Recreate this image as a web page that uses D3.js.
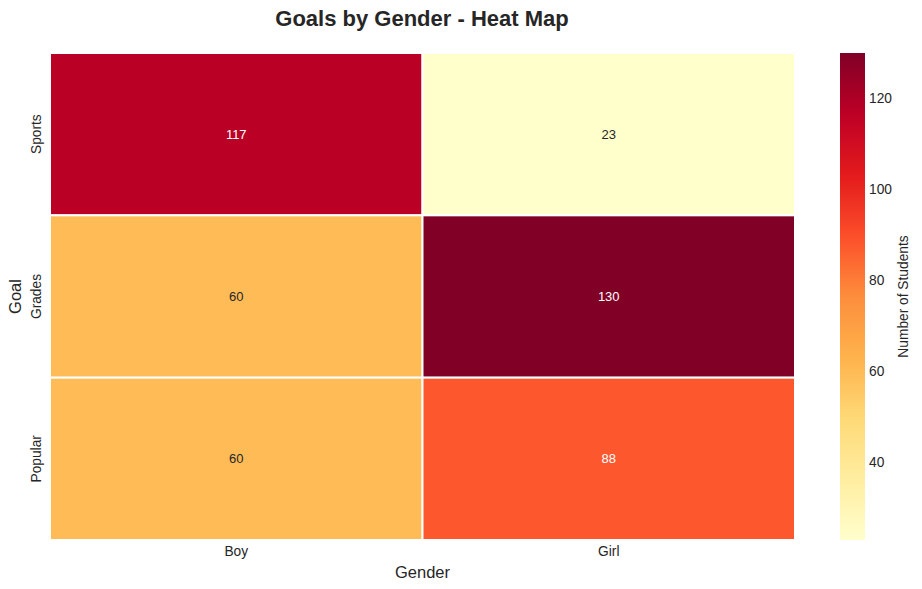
<!DOCTYPE html>
<html><head><meta charset="utf-8">
<script src="https://cdn.jsdelivr.net/npm/d3@7"></script>
<style>body{margin:0;background:#fff}text{font-family:"Liberation Sans",Arial,sans-serif}</style>
</head><body><svg id="c" width="922" height="589"></svg>
<script>
const goals = ["Sports", "Grades", "Popular"];
const genders = ["Boy", "Girl"];
const boyValues = [117, 60, 60];
const girlValues = [23, 130, 88];
const cbTicks = [40, 60, 80, 100, 120];
const vmin = 23, vmax = 130;

const cells = [];
goals.forEach((g, i) => {
  cells.push({goal: g, gender: "Boy", value: boyValues[i]});
  cells.push({goal: g, gender: "Girl", value: girlValues[i]});
});

const svg = d3.select("#c");
const ink = "#262626";
const ylorrd = ["#ffffcc","#ffeda0","#fed976","#feb24c","#fd8d3c","#fc4e2a","#e31a1c","#bd0026","#800026"];
const color = d3.scaleLinear()
  .domain(ylorrd.map((_, i) => vmin + (vmax - vmin) * i / (ylorrd.length - 1)))
  .range(ylorrd).interpolate(d3.interpolateRgb).clamp(true);

const x = d3.scaleBand().domain(genders).range([50, 795]);
const y = d3.scaleBand().domain(goals).range([53, 540]);

svg.append("g").selectAll("rect").data(cells).join("rect")
  .attr("x", d => x(d.gender)).attr("y", d => y(d.goal))
  .attr("width", x.bandwidth()).attr("height", y.bandwidth())
  .attr("fill", d => color(d.value))
  .attr("stroke", "#fff").attr("stroke-width", 2);

function lum(c) {
  const r = d3.rgb(c);
  const f = v => { v /= 255; return v <= 0.03928 ? v / 12.92 : Math.pow((v + 0.055) / 1.055, 2.4); };
  return 0.2126 * f(r.r) + 0.7152 * f(r.g) + 0.0722 * f(r.b);
}
svg.append("g").selectAll("text").data(cells).join("text")
  .attr("x", d => x(d.gender) + x.bandwidth() / 2)
  .attr("y", d => y(d.goal) + y.bandwidth() / 2)
  .attr("text-anchor", "middle").attr("dominant-baseline", "central")
  .attr("font-size", 13)
  .attr("fill", d => lum(color(d.value)) > 0.408 ? ink : "#fff")
  .text(d => d.value);

// x tick labels
svg.append("g").selectAll("text").data(genders).join("text")
  .attr("x", d => x(d) + x.bandwidth() / 2).attr("y", 556)
  .attr("text-anchor", "middle").attr("font-size", 13.75).attr("fill", ink)
  .text(d => d);
// y tick labels
svg.append("g").selectAll("text").data(goals).join("text")
  .attr("transform", d => `translate(41,${y(d) + y.bandwidth() / 2}) rotate(-90)`)
  .attr("text-anchor", "middle").attr("font-size", 13.75).attr("fill", ink)
  .text(d => d);

svg.append("text").attr("x", (50 + 795) / 2).attr("y", 578)
  .attr("text-anchor", "middle").attr("font-size", 16.5).attr("fill", ink).text("Gender");
svg.append("text").attr("transform", `translate(21,${(53 + 540) / 2}) rotate(-90)`)
  .attr("text-anchor", "middle").attr("font-size", 16.5).attr("fill", ink).text("Goal");

svg.append("text").attr("x", 422).attr("y", 26)
  .attr("text-anchor", "middle").attr("font-size", 22).attr("font-weight", "bold")
  .attr("fill", ink).text("Goals by Gender - Heat Map");

// colorbar
const cbX = 840, cbW = 25, cbTop = 53, cbBot = 540;
const cy = d3.scaleLinear().domain([vmin, vmax]).range([cbBot, cbTop]);
const defs = svg.append("defs");
const grad = defs.append("linearGradient").attr("id", "cbg")
  .attr("x1", 0).attr("y1", 1).attr("x2", 0).attr("y2", 0);
d3.range(0, 1.0001, 0.02).forEach(t => {
  grad.append("stop").attr("offset", t).attr("stop-color", color(vmin + t * (vmax - vmin)));
});
svg.append("rect").attr("x", cbX).attr("y", cbTop).attr("width", cbW)
  .attr("height", cbBot - cbTop).attr("fill", "url(#cbg)");
svg.append("g").selectAll("text").data(cbTicks).join("text")
  .attr("x", cbX + cbW + 4).attr("y", d => cy(d)).attr("dominant-baseline", "central")
  .attr("font-size", 13.75).attr("fill", ink).text(d => d);
svg.append("text").attr("transform", `translate(908,${(cbTop + cbBot) / 2}) rotate(-90)`)
  .attr("text-anchor", "middle").attr("font-size", 13.75).attr("fill", ink).text("Number of Students");
</script></body></html>
